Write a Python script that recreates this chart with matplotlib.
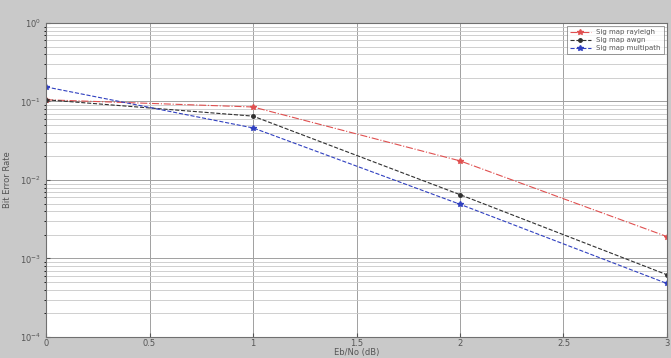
import matplotlib
matplotlib.use("Agg")
import matplotlib.pyplot as plt
from matplotlib.ticker import LogLocator, NullFormatter

# data
ebno = [0, 1, 2, 3]
ber_rayleigh = [0.105, 0.085, 0.0175, 0.0019]
ber_awgn = [0.105, 0.065, 0.0065, 0.00062]
ber_multipath = [0.153, 0.046, 0.0049, 0.00048]
labels = ["Sig map rayleigh", "Sig map awgn", "Sig map multipath"]
xticks = [0, 0.5, 1, 1.5, 2, 2.5, 3]

fig = plt.figure(figsize=(6.71, 3.58), dpi=100, facecolor="#c9c9c9")
ax = fig.add_axes([0.0686, 0.0587, 0.9254, 0.8773])
ax.set_facecolor("white")

ax.semilogy(ebno, ber_rayleigh, color="#e05050", ls="-.", marker="*", ms=4, lw=0.8, label=labels[0])
ax.semilogy(ebno, ber_awgn, color="#303030", ls="--", marker=".", ms=5, lw=0.8, label=labels[1])
ax.semilogy(ebno, ber_multipath, color="#3040c0", ls="--", marker="*", ms=4, lw=0.8, label=labels[2])

ax.set_xlim(0, 3)
ax.set_ylim(1e-4, 1)
ax.set_xticks(xticks)
ax.set_xticklabels([f"{t:g}" for t in xticks])
ax.yaxis.set_major_locator(LogLocator(base=10, numticks=10))
ax.yaxis.set_minor_locator(LogLocator(base=10, subs=range(2, 10), numticks=20))
ax.yaxis.set_minor_formatter(NullFormatter())

ax.grid(True, which="major", color="#a0a0a0", lw=0.7)
ax.grid(True, which="minor", axis="y", color="#c8c8c8", lw=0.6)
ax.tick_params(labelsize=6, direction="in", length=3, colors="#555555")
ax.tick_params(axis="x", pad=1.5)
ax.tick_params(which="minor", length=1.5)
for s in ax.spines.values():
    s.set_color("#707070")
    s.set_linewidth(0.8)

ax.set_xlabel("Eb/No (dB)", fontsize=6, color="#555555", labelpad=0)
ax.set_ylabel("Bit Error Rate", fontsize=6, color="#555555", labelpad=6)

leg = ax.legend(loc="upper right", fontsize=5, frameon=True, fancybox=False,
                borderpad=0.4, handlelength=3, labelspacing=0.3)
leg.get_frame().set_edgecolor("#707070")
leg.get_frame().set_linewidth(0.6)
for t in leg.get_texts():
    t.set_color("#555555")

fig.savefig("out.png", dpi=100, facecolor=fig.get_facecolor())
